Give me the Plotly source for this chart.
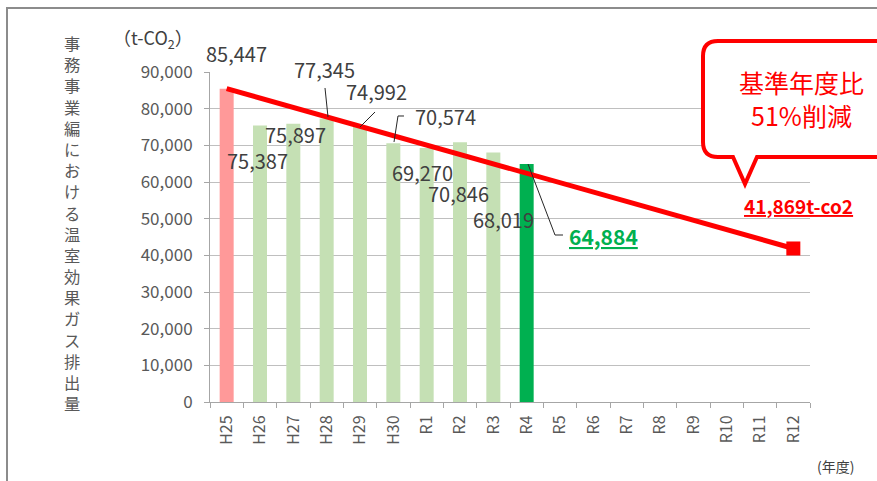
import plotly.graph_objects as go

# ---------------- data ----------------
years = ["H25", "H26", "H27", "H28", "H29", "H30", "R1", "R2", "R3", "R4",
         "R5", "R6", "R7", "R8", "R9", "R10", "R11", "R12"]
emissions = [85447, 75387, 75897, 77345, 74992, 70574, 69270, 70846, 68019, 64884]
target_years = ["H25", "R12"]
target_values = [85447, 41869]
y_ticks = [0, 10000, 20000, 30000, 40000, 50000, 60000, 70000, 80000, 90000]
y_title = "事務事業編における温室効果ガス排出量"

# ---------------- style ----------------
FONT = "Noto Sans CJK JP"
W, H = 877, 481
ML, MR, MT, MB = 210, 67, 72, 79
PW, PH = W - ML - MR, H - MT - MB

def px(x):
    return (x - ML) / PW

def py(y):
    return (H - MB - y) / PH

bar_colors = ["#FF9999"] + ["#C5E0B4"] * 8 + ["#00B050"]

fig = go.Figure()
fig.add_trace(go.Bar(
    x=years[:len(emissions)], y=emissions,
    marker=dict(color=bar_colors, line=dict(width=0)),
    hoverinfo="x+y", showlegend=False,
))
fig.add_trace(go.Scatter(
    x=target_years, y=target_values, mode="lines",
    line=dict(color="#FF0000", width=5), showlegend=False,
))
fig.add_trace(go.Scatter(
    x=target_years[-1:], y=target_values[-1:], mode="markers",
    marker=dict(symbol="square", size=14, color="#FF0000"), showlegend=False,
))

# data label offsets (pixel shifts from bar top)
label_shifts = [(10, 35), (-3, -35), (2, -11), (-2, 49), (16, 36), (52, 27),
                (-4, -24), (-2, -51), (10, -67)]
for i, (dx, dy) in enumerate(label_shifts):
    fig.add_annotation(x=years[i], y=emissions[i], text=f"{emissions[i]:,}",
                       xshift=dx, yshift=dy, showarrow=False,
                       xanchor="center", yanchor="middle",
                       font=dict(family=FONT, size=20, color="#404040"))
# latest year label
fig.add_annotation(x=years[9], y=emissions[9], text=f"<u><b>{emissions[9]:,}</b></u>",
                   xshift=77, yshift=-72, showarrow=False,
                   xanchor="center", yanchor="middle",
                   font=dict(family=FONT, size=21, color="#00B050"))
# target label
fig.add_annotation(x=target_years[-1], y=target_values[-1],
                   text=f"<u><b>{target_values[-1]:,}t-co2</b></u>",
                   xshift=5, yshift=43, showarrow=False,
                   xanchor="center", yanchor="middle",
                   font=dict(family=FONT, size=19, color="#FF0000"))

shapes = []
# outer frame
shapes.append(dict(type="rect", xref="paper", yref="paper",
                   x0=px(7), x1=px(900), y0=py(8), y1=py(500),
                   line=dict(color="#8C8C8C", width=2), layer="below"))
# leader lines
def seg(points):
    d = "M " + " L ".join(f"{px(a):.5f},{py(b):.5f}" for a, b in points)
    return dict(type="path", xref="paper", yref="paper", path=d,
                line=dict(color="#262626", width=1))
shapes.append(seg([(325, 88), (328, 117)]))
shapes.append(seg([(375, 112), (360, 127)]))
shapes.append(seg([(404, 116), (398, 116), (394, 142)]))
shapes.append(seg([(528, 164), (555, 235), (563, 235)]))

# callout bubble
L, T, R, B, r = 703, 41, 905, 157, 15
pts = [
    f"M {px(L + r)},{py(T)}",
    f"L {px(R)},{py(T)}",
    f"L {px(R)},{py(B)}",
    f"L {px(757)},{py(B)}",
    f"L {px(745)},{py(184)}",
    f"L {px(733)},{py(B)}",
    f"L {px(L + r)},{py(B)}",
    f"Q {px(L)},{py(B)} {px(L)},{py(B - r)}",
    f"L {px(L)},{py(T + r)}",
    f"Q {px(L)},{py(T)} {px(L + r)},{py(T)}",
    "Z",
]
shapes.append(dict(type="path", xref="paper", yref="paper", path=" ".join(pts),
                   line=dict(color="#FF0000", width=4), fillcolor="white"))

def paper_text(x, y, text, size, color, weight="normal"):
    fig.add_annotation(xref="paper", yref="paper", x=px(x), y=py(y),
                       xanchor="center", yanchor="middle",
                       text=text, showarrow=False,
                       font=dict(family=FONT, size=size, color=color, weight=weight))

paper_text(801, 99, "基準年度比<br>51%削減", 25, "#FF0000")

# vertical axis title, one character per line
paper_text(72, 223, "<br>".join(y_title), 16.3, "#595959")
paper_text(153, 38, "（t-CO<sub>2</sub>）", 18, "#404040")
paper_text(835, 466, "(年度)", 14, "#404040")

fig.update_layout(
    width=W, height=H,
    margin=dict(l=ML, r=MR, t=MT, b=MB),
    paper_bgcolor="white", plot_bgcolor="white",
    bargap=0.58,
    shapes=shapes,
    font=dict(family=FONT, color="#595959"),
    xaxis=dict(
        type="category", categoryorder="array", categoryarray=years,
        range=[-0.5, len(years) - 0.5],
        tickangle=-90, tickfont=dict(family=FONT, size=16, color="#595959"),
        ticks="outside", tickson="boundaries", ticklen=5, tickcolor="#A6A6A6",
        showline=True, linecolor="#A6A6A6", linewidth=1,
        showgrid=False, ticklabelstandoff=6,
    ),
    yaxis=dict(
        range=[0, 90000], tickvals=y_ticks,
        ticktext=[f"{v:,}" for v in y_ticks],
        tickfont=dict(family=FONT, size=17, color="#595959"),
        ticks="outside", ticklen=5, tickcolor="#A6A6A6",
        showline=True, linecolor="#A6A6A6", linewidth=1,
        gridcolor="#BFBFBF", gridwidth=1, zeroline=False,
        ticklabelstandoff=8,
    ),
)

fig.write_html("out.html",
               config={"displayModeBar": False},
               post_script="document.body.style.margin='0';"
                           "document.body.style.overflow='hidden';")
